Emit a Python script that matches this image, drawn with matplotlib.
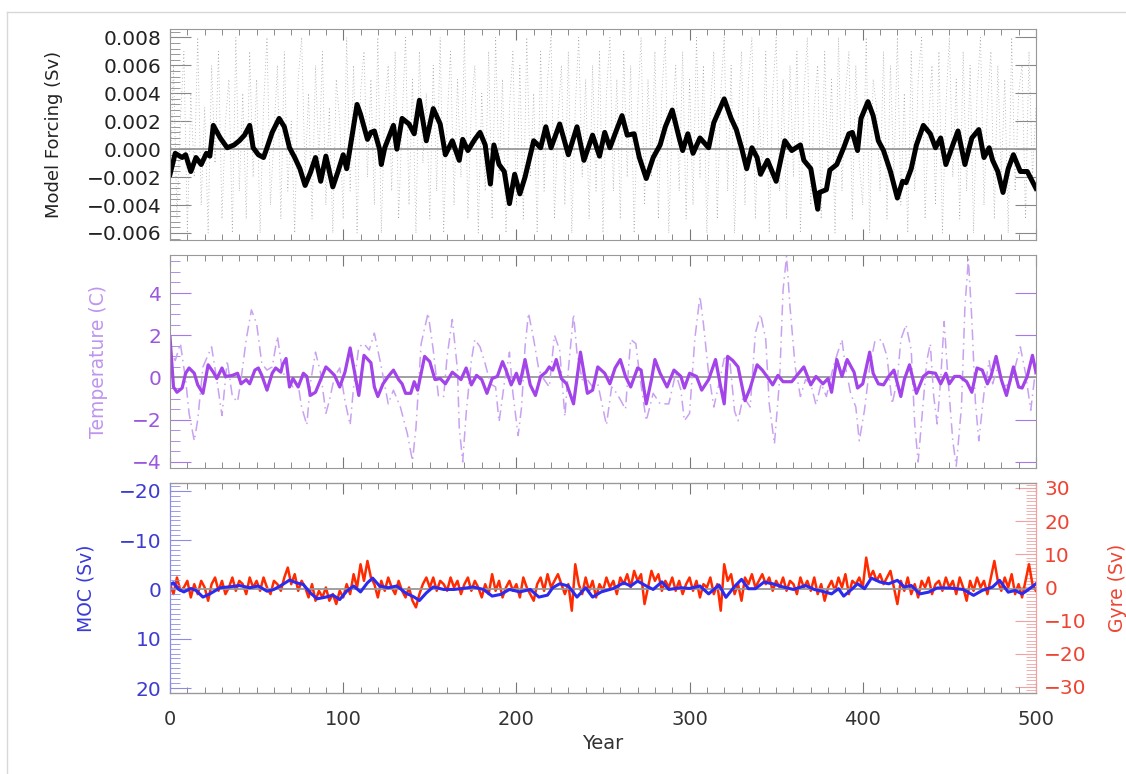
from matplotlib import pyplot as plt
from matplotlib.ticker import MultipleLocator
from matplotlib.lines import Line2D
import numpy as np

plt.rcParams['font.family'] = ['DejaVu Sans']

# ---- top panel: model forcing (values in 1e-3 Sv) ----
forcing_years = [0, 3, 7, 9, 12, 15, 18, 21, 23, 25, 29, 33, 37, 40, 43, 46, 48, 51, 54, 56,
                 59, 63, 66, 69, 72, 75, 78, 81, 84, 87, 90, 92, 94, 97, 100, 102, 104, 108, 110, 112,
                 114, 116, 118, 121, 122, 124, 129, 131, 134, 138, 141, 144, 148, 152, 156, 159, 163, 167, 169, 172,
                 176, 179, 182, 185, 187, 190, 193, 196, 199, 202, 205, 210, 214, 217, 220, 225, 230, 235, 239, 244,
                 248, 251, 254, 257, 261, 264, 268, 271, 275, 279, 283, 286, 290, 294, 296, 299, 302, 306, 311, 314,
                 320, 324, 327, 330, 333, 336, 339, 341, 345, 347, 350, 355, 359, 364, 366, 370, 374, 375, 379, 381,
                 385, 389, 392, 394, 397, 399, 403, 406, 409, 412, 416, 420, 423, 425, 428, 431, 435, 439, 442, 445,
                 448, 452, 455, 459, 463, 467, 470, 473, 475, 478, 481, 484, 487, 491, 495, 500]
forcing_mSv = [-1.8, -0.3, -0.6, -0.4, -1.6, -0.6, -1.1, -0.3, -0.5, 1.7, 0.8, 0.1, 0.3, 0.6, 1.0, 1.7, 0.1, -0.4, -0.6, 0.1,
               1.2, 2.2, 1.6, 0.1, -0.6, -1.4, -2.6, -1.7, -0.6, -2.3, -0.5, -1.6, -2.7, -1.6, -0.4, -1.4, 0.1, 3.2, 2.5, 1.6,
               0.7, 1.2, 1.3, 0.0, -1.1, 0.1, 1.7, 0.0, 2.2, 1.8, 1.1, 3.5, 0.6, 2.9, 1.8, -0.4, 0.6, -0.8, 0.7, -0.1,
               0.7, 1.2, 0.3, -2.5, 0.3, -1.1, -1.6, -3.9, -1.8, -3.2, -2.0, 0.6, 0.1, 1.6, 0.1, 1.8, -0.4, 1.6, -0.8, 1.0,
               -0.5, 1.2, 0.1, 1.1, 2.4, 1.0, 1.1, -0.6, -2.1, -0.6, 0.3, 1.6, 2.8, 0.8, -0.1, 1.1, -0.3, 0.8, 0.1, 1.9,
               3.6, 2.2, 1.4, 0.1, -1.4, 0.1, -0.6, -1.8, -0.8, -1.4, -2.3, 0.6, -0.1, 0.3, -0.8, -1.4, -4.3, -3.1, -2.9, -1.5,
               -1.1, 0.1, 1.1, 1.2, -0.1, 2.2, 3.4, 2.4, 0.6, -0.1, -1.6, -3.5, -2.3, -2.4, -1.4, 0.3, 1.7, 1.1, 0.1, 0.8,
               -1.1, 0.3, 1.3, -1.1, 0.8, 1.4, -0.6, 0.1, -0.8, -1.6, -3.1, -1.4, -0.4, -1.6, -1.6, -2.8]

# annual forcing noise (dotted grey), every 2 years, 1e-3 Sv
noise_mSv = [-3, 6, -5, 2, 7, -6, 4, -2, 8, -4, 3, -6, 6, -1, 7, -5, 2, 5, -6, 8, -3, 4, -5, 7, -2,
             5, -6, 3, 8, -4, 1, 6, -5, 7, -3, 2, -6, 5, 8, -2, 4, -5, 6, -1, 7, -4, 3, -6, 5, 2,
             -5, 8, -3, 6, -6, 4, 7, -2, 5, -4, 8, -6, 3, 6, -3, 7, -5, 2, 8, -4, 5, -6, 7, -1, 4,
             -5, 6, -3, 8, -6, 2, 7, -4, 5, -2, 8, -5, 3, 6, -6, 4, -3, 7, -5, 8, -2, 5, -6, 3, 7,
             -4, 6, -5, 8, -2, 4, -6, 7, -3, 5, 8, -5, 2, 6, -4, 7, -6, 3, 8, -2, 5, -5, 6, -3, 7,
             -6, 4, 8, -3, 5, -5, 7, -2, 6, -6, 3, 8, -4, 5, -2, 7, -5, 4, 8, -6, 2, 6, -3, 7, -5,
             5, -4, 8, -2, 6, -6, 3, 7, -5, 4, 8, -3, 6, -6, 2, 7, -4, 5, 8, -5, 3, -2, 7, -6, 4,
             8, -3, 5, -5, 6, -2, 7, -6, 4, 8, -4, 3, 6, -5, 7, -2, 5, -6, 8, -3, 4, 7, -5, 6, -1,
             -4, 8, -6, 5, 3, -3, 7, -5, 6, -2, 8, -4, 4, -6, 7, -3, 5, 8, -5, 2, 6, -4, 7, -6, 3,
             8, -2, 5, -5, 7, -3, 6, -6, 4, 8, -4, 3, 7, -5, 6, -2, 5, -6, 8, -3, 4, 6, -5, 7, -2, 3]
noise_years = np.arange(len(noise_mSv)) * 2

# ---- middle panel: temperature (C) ----
temp_years = [0, 2, 4, 7, 9, 11, 14, 16, 19, 22, 25, 27, 30, 32, 36, 39, 41, 44, 46, 49,
              51, 53, 56, 59, 61, 64, 65, 67, 69, 71, 74, 77, 79, 81, 84, 87, 90, 92, 95, 98,
              101, 104, 107, 109, 112, 116, 118, 120, 123, 126, 129, 132, 134, 136, 139, 141, 143, 147, 150, 153,
              156, 159, 163, 166, 168, 171, 174, 177, 180, 183, 186, 189, 192, 194, 197, 200, 202, 205, 208, 211,
              214, 217, 219, 221, 223, 226, 229, 233, 237, 241, 244, 247, 251, 254, 257, 260, 263, 266, 270, 272,
              275, 278, 280, 283, 287, 291, 295, 297, 300, 304, 307, 311, 315, 318, 320, 322, 325, 328, 332, 335,
              339, 342, 346, 348, 351, 354, 359, 363, 366, 370, 373, 377, 380, 382, 385, 388, 391, 395, 397, 400,
              404, 406, 409, 412, 415, 418, 422, 424, 427, 431, 435, 438, 442, 445, 448, 450, 453, 456, 460, 463,
              466, 469, 472, 474, 477, 480, 483, 487, 490, 492, 495, 498, 500]
temp_smooth = [1.9, -0.45, -0.7, -0.5, 0.2, 0.45, 0.2, -0.35, -0.75, 0.6, 0.25, -0.05, 0.45, 0.05, 0.1, 0.2, -0.3, -0.1, -0.3, 0.35,
               0.45, 0.1, -0.6, 0.2, 0.45, 0.25, 0.6, 0.9, -0.45, -0.05, -0.45, 0.2, 0.05, -0.85, -0.7, -0.1, 0.5, 0.35, 0.1, -0.45,
               0.25, 1.4, 0.05, -0.85, 1.05, 0.7, -0.45, -0.9, -0.3, 0.05, 0.35, -0.1, -0.3, -0.75, -0.75, -0.2, -0.6, 1.0, 0.75, -0.1,
               -0.05, -0.3, 0.25, 0.05, -0.1, 0.45, -0.35, 0.1, -0.1, -0.75, -0.05, 0.05, 0.75, 0.35, -0.35, 0.2, -0.3, 0.85, -0.35, -0.85,
               0.05, 0.25, 0.5, 0.35, 0.85, -0.05, -0.3, -1.25, 1.2, -0.75, -0.6, 0.5, 0.2, -0.3, 0.45, 0.85, 0.05, -0.45, 0.45, 0.35,
               -1.25, -0.1, 0.85, 0.2, -0.45, 0.35, 0.05, -0.5, 0.2, 0.05, -0.6, -0.1, 0.85, -0.45, -1.25, 1.0, 0.8, 0.5, -1.1, -0.5,
               0.6, 0.35, -0.1, -0.35, 0.1, -0.2, -0.2, 0.2, 0.5, -0.35, 0.05, -0.3, -0.05, -0.7, 0.85, 0.05, 0.85, 0.25, -0.5, -0.3,
               1.2, 0.2, -0.3, -0.35, 0.05, 0.35, -0.9, -0.1, 0.6, -0.75, 0.05, 0.25, 0.2, -0.3, 0.2, -0.3, 0.05, 0.05, -0.2, -0.7,
               0.45, 0.35, -0.3, 0.05, 1.0, -0.1, -0.85, 0.5, -0.45, -0.5, 0.05, 1.05, 0.25]

tempraw_years = [0, 1, 3, 6, 9, 11, 14, 16, 19, 24, 27, 30, 33, 36, 39, 41, 44, 47, 50, 53,
                 56, 59, 62, 65, 68, 71, 74, 76, 79, 81, 84, 87, 90, 92, 95, 98, 101, 104, 106, 109,
                 112, 115, 118, 122, 126, 129, 133, 137, 140, 142, 145, 149, 152, 155, 158, 160, 163, 166, 167, 169,
                 171, 174, 176, 179, 182, 185, 188, 190, 193, 196, 198, 201, 203, 205, 207, 210, 213, 216, 219, 222,
                 225, 228, 230, 233, 235, 238, 241, 244, 247, 252, 255, 258, 263, 266, 269, 271, 275, 279, 283, 288,
                 292, 295, 297, 300, 303, 306, 308, 311, 314, 317, 320, 323, 326, 328, 331, 335, 338, 341, 344, 346,
                 349, 352, 354, 356, 358, 361, 364, 367, 370, 373, 376, 379, 383, 386, 388, 390, 393, 396, 398, 401,
                 404, 407, 411, 414, 417, 420, 422, 425, 428, 430, 432, 434, 437, 439, 441, 443, 445, 447, 449, 452,
                 454, 457, 459, 461, 463, 465, 467, 470, 473, 475, 478, 481, 485, 488, 491, 494, 497, 500]
temp_raw = [1.9, 1.15, 0.8, 1.6, -0.1, -1.7, -3.0, -2.0, 0.5, 1.45, -0.1, -1.8, 0.8, -0.9, -1.15, -0.1, 1.8, 3.2, 2.55, 0.65,
            0.35, 0.5, 1.95, 0.25, -0.1, -0.45, -0.35, -1.4, -2.25, -0.3, 1.2, 0.2, -1.7, -1.1, 0.05, 0.45, -1.1, -2.25, -0.45, 1.45,
            1.6, 1.3, 2.1, 0.5, -1.25, -0.6, -1.4, -2.65, -3.95, -2.4, 1.6, 3.05, 1.3, -0.9, -0.9, 1.0, 2.75, 0.35, -2.35, -4.0,
            -1.7, 0.8, 1.8, 1.45, 0.65, -0.3, -0.45, -2.1, -0.3, 1.2, -0.75, -2.75, -1.4, 1.45, 3.05, 1.8, 0.35, -0.1, -0.45, 2.0,
            1.3, -1.85, 0.35, 3.0, 1.15, -0.1, -0.1, -0.45, -0.3, -2.25, -0.45, -0.75, -1.5, 1.8, 1.6, 0.2, -2.05, -0.75, -1.25, -1.25,
            0.2, -0.6, -2.05, -1.7, 1.8, 3.85, 2.55, 0.2, -1.4, -0.3, 0.9, 1.0, -1.6, -2.05, -0.9, -1.4, 2.1, 3.0, 1.8, -1.25,
            -3.15, -0.1, 4.15, 5.75, 3.35, 0.5, -0.9, -0.1, -0.3, -1.3, -0.3, -0.9, 0.5, 1.3, 1.8, 0.5, -0.75, -1.4, -3.0, -1.55,
            0.5, 1.7, 1.8, 1.0, -1.25, -0.1, 1.8, 2.5, 1.3, -2.2, -4.0, -2.05, 0.8, 1.6, -0.9, -2.2, -0.1, 2.65, 0.2, -3.0,
            -4.2, -1.4, 3.35, 5.6, 2.75, -1.1, -3.0, -0.75, 0.8, -0.3, 0.5, -0.45, -0.3, 0.5, 1.45, 0.2, -1.55, 0.5]

# ---- bottom panel: MOC (Sv, inverted) and Gyre (Sv) ----
moc_years = [0, 2, 5, 8, 12, 15, 19, 23, 29, 35, 40, 46, 51, 56, 60, 65, 69, 73, 77, 81,
             85, 90, 94, 98, 102, 106, 110, 114, 117, 121, 126, 131, 136, 141, 144, 148, 152, 158, 164, 169,
             175, 181, 186, 191, 196, 202, 208, 213, 218, 221, 225, 230, 235, 240, 244, 249, 256, 262, 266, 270,
             275, 279, 284, 288, 295, 300, 306, 311, 317, 321, 326, 330, 334, 338, 343, 348, 354, 360, 367, 372,
             377, 382, 386, 389, 394, 397, 401, 405, 410, 415, 420, 424, 428, 433, 438, 443, 450, 458, 464, 469,
             475, 479, 484, 488, 492, 495, 500]
moc = [-1.0, -1.35, 0, 0.5, -0.2, 0.2, 1.55, 0.9, -0.35, -0.55, -0.8, -0.35, -0.7, 0.35, 0, -1.0, -1.9, -1.35, -1.0, 0.7,
       1.9, 1.55, 1.15, 2.05, 0.35, -0.7, 0.5, -1.35, -2.3, -0.7, -0.35, -0.7, 0.7, 1.55, 2.25, 0.7, -0.5, 0, 0, -0.2,
       -0.5, 0, 1.35, 1.0, 0, 0.5, 0, 1.55, 1.15, -0.35, -1.15, -0.7, 1.55, -0.35, 1.55, 0.5, -0.2, -1.35, -0.7, -1.7,
       -0.7, 0, -1.55, 0, -0.35, -0.2, -0.7, 0.9, -0.9, 1.6, -0.6, -2.05, -0.15, -0.15, -1.5, -1.15, -0.5, 0, -0.8, 0,
       0.4, 0.9, -0.15, 1.35, -0.15, -1.15, -0.15, -2.3, -1.5, -1.15, -1.85, -0.5, -0.8, 0.9, 0.55, -0.3, -0.3, 0, 1.2, 0.2,
       -0.5, -1.85, 0.55, 0.2, 0.9, 0.2, -1.15]

gyre = [1, -2, 3, -1, 0, 2, -3, 1, -2, 2, 0, -4, 1, 3, -1, 2, -2, 0, 3, -1, 2, 1, -2, 3, 0,
        2, -1, 3, 0, -2, 2, 1, -1, 3, 6, 1, 4, -1, 2, 0, -3, 1, -4, -1, -3, 0, -4, -2, -5, -1,
        -3, 1, -2, 4, 0, 7, 2, 8, 3, 1, -3, 2, -1, 3, 0, -2, 2, -1, -3, 0, -4, -6, -2, 1, 3,
        0, 3, -1, 2, 1, -1, 3, 0, 2, -2, 1, 3, -1, 2, 0, -3, 1, -2, 4, -1, 2, -3, 0, 2, -1,
        1, -3, 3, 0, -2, -4, 1, 3, -1, 4, 0, 2, 4, 1, -2, 1, -7, 7, 1, -2, 3, -1, 2, -3, 1,
        -1, 3, 0, 2, -2, 3, 1, 4, 0, 5, 2, 4, -5, 0, 5, 2, 4, -1, 2, 0, 3, -1, 2, -2, 1,
        3, -1, 2, -3, 1, 0, 3, -2, 1, -7, 7, 2, 4, -2, 1, -4, 3, 1, 4, 0, 2, 4, 1, 3, -1,
        2, 0, 3, -1, 2, 1, -2, 3, 0, 2, -1, 3, -2, 1, -4, 0, 2, -1, 3, 0, 4, -2, 2, 1, 3,
        0, 9, 3, 5, 2, 4, 1, 3, 5, 0, -5, 2, -1, 3, -2, 1, -3, 2, 0, 3, -2, 1, 2, -1, 3,
        0, 2, -2, 3, 0, -4, 2, -1, 3, 0, 2, -2, 3, 8, 2, -1, 3, 0, 4, -2, 1, -3, 2, 7, 1, -1]
gyre_years = np.arange(len(gyre)) * 2

# ---- figure ----
fig = plt.figure(figsize=(11.26, 7.74), dpi=100)
fig.add_artist(Line2D([7/1126, 1], [1 - 12/774, 1 - 12/774], color='#d8d8d8', lw=1))
fig.add_artist(Line2D([7/1126, 7/1126], [0, 1 - 12/774], color='#d8d8d8', lw=1))

L, W = 0.151, 0.769
ax1 = fig.add_axes([L, 0.690, W, 0.2725])
ax2 = fig.add_axes([L, 0.395, W, 0.2755])
ax3 = fig.add_axes([L, 0.1047, W, 0.2713])
ax4 = ax3.twinx()


def style(ax, spine_col, tick_col, lab_col, ymaj, ymin):
    for s in ax.spines.values():
        s.set_color(spine_col)
    ax.set_xlim(0, 500)
    ax.xaxis.set_major_locator(MultipleLocator(100))
    ax.xaxis.set_minor_locator(MultipleLocator(10))
    ax.yaxis.set_major_locator(MultipleLocator(ymaj))
    ax.yaxis.set_minor_locator(MultipleLocator(ymin))
    ax.tick_params(axis='x', which='both', direction='in', top=True, bottom=True, colors='#777777')
    ax.tick_params(axis='x', which='major', length=8)
    ax.tick_params(axis='x', which='minor', length=4)
    ax.tick_params(axis='y', which='both', direction='in', colors=tick_col, labelcolor=lab_col,
                   labelsize=14.5, pad=6)
    ax.tick_params(axis='y', which='major', length=15)
    ax.tick_params(axis='y', which='minor', length=7)


# top
style(ax1, '#999999', '#888888', '#222222', 0.002, 0.0004)
ax1.tick_params(axis='y', right=True)
ax1.plot(noise_years, np.array(noise_mSv) * 1e-3, color='#a8a8a8', lw=0.6, ls=(0, (1, 3)))
ax1.axhline(0, color='#999999', lw=1.3)
ax1.plot(forcing_years, np.array(forcing_mSv) * 1e-3, color='black', lw=3.6)
ax1.set_ylim(-0.0065, 0.0086)
ax1.set_yticks(np.arange(-0.006, 0.0081, 0.002))
ax1.set_yticklabels(['−0.006', '−0.004', '−0.002', '0.000', '0.002', '0.004', '0.006', '0.008'])
ax1.set_xticklabels([])
ax1.set_ylabel('Model Forcing (Sv)', fontsize=13, color='#222222')
ax1.yaxis.set_label_coords(-0.1236, 0.5)

# middle
style(ax2, '#999999', '#a37ae6', '#9b57de', 2, 0.5)
ax2.tick_params(axis='y', right=True)
ax2.axhline(0, color='#999999', lw=1.3)
ax2.plot(tempraw_years, temp_raw, color='#c8a2f0', lw=1.1, ls=(0, (7, 3, 1, 3)))
ax2.plot(temp_years, temp_smooth, color='#a244ea', lw=2.3)
ax2.set_ylim(-4.3, 5.8)
ax2.set_yticks([-4, -2, 0, 2, 4])
ax2.set_yticklabels(['−4', '−2', '0', '2', '4'])
ax2.set_xticklabels([])
ax2.set_ylabel('Temperature (C)', fontsize=13.5, color='#bf95ee')
ax2.yaxis.set_label_coords(-0.0716, 0.5)

# bottom
style(ax3, '#999999', '#8c8ce6', '#3c3cd0', 10, 1)
ax3.spines['left'].set_color('#8c8ce6')
ax3.spines['right'].set_color('#f0a0a0')
ax4.spines['right'].set_color('#f0a0a0')
ax4.spines['left'].set_color('#8c8ce6')
ax4.yaxis.set_major_locator(MultipleLocator(10))
ax4.yaxis.set_minor_locator(MultipleLocator(1))
ax4.tick_params(axis='y', which='both', direction='in', colors='#f2a2a2', labelcolor='#ee4433',
                labelsize=14.5, pad=6)
ax4.tick_params(axis='y', which='major', length=15)
ax4.tick_params(axis='y', which='minor', length=7)

ax4.plot(gyre_years, gyre, color='#ff2a00', lw=1.8)
ax4.set_ylim(-31.8, 31.5)
ax4.set_yticks([-30, -20, -10, 0, 10, 20, 30])
ax4.set_yticklabels(['−30', '−20', '−10', '0', '10', '20', '30'])
ax4.set_ylabel('Gyre (Sv)', fontsize=13.5, color='#ee4433')
ax4.yaxis.set_label_coords(1.083, 0.5)

ax3.set_zorder(ax4.get_zorder() + 1)
ax3.patch.set_visible(False)
ax3.axhline(0, color='#999999', lw=1.3, zorder=0)
ax3.plot(moc_years, moc, color='#2b2bf0', lw=2.2)
ax3.set_ylim(21, -21.6)
ax3.set_yticks([-20, -10, 0, 10, 20])
ax3.set_yticklabels(['−20', '−10', '0', '10', '20'])
ax3.set_ylabel('MOC (Sv)', fontsize=13.5, color='#3a3ad8')
ax3.yaxis.set_label_coords(-0.0855, 0.5)
ax3.tick_params(axis='x', labelcolor='#333333', labelsize=14, pad=12)
ax3.set_xlabel('Year', fontsize=14, color='#333333', labelpad=4)

fig.savefig('out.png', dpi=100)
